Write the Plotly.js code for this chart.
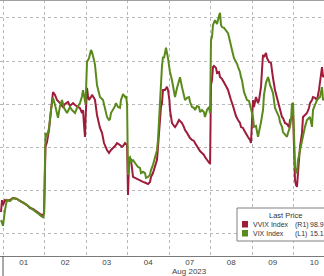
<!DOCTYPE html>
<html>
<head>
<meta charset="utf-8">
<script src="https://cdn.plot.ly/plotly-3.0.1.min.js"></script>
<style>html,body{margin:0;padding:0;background:#fff;overflow:hidden}#chart{width:324px;height:276px}</style>
</head>
<body>
<div id="chart"></div>
<script>
// Trading-session position (0 = open of Aug 01, each trading day = 1 unit)
const dayLabels = ['01', '02', '03', '04', '07', '08', '09', '10'];
const monthLabel = 'Aug 2023';

const vvixTime = [
  -0.048,-0.024,0,0.048,0.096,0.169,0.241,0.337,0.410,0.506,0.578,0.651,0.723,0.795,0.867,0.916,0.964,0.99,
  1.024,1.060,1.108,1.157,1.205,1.253,1.301,1.373,1.446,1.494,1.566,1.614,1.687,1.735,1.807,1.855,1.904,1.928,1.952,1.976,1.99,
  2.024,2.048,2.072,2.120,2.145,2.193,2.217,2.265,2.289,2.337,2.386,2.434,2.506,2.554,2.602,2.651,2.699,2.747,2.795,2.819,2.867,2.892,2.940,2.99,
  3.012,3.036,3.060,3.084,3.133,3.181,3.253,3.301,3.373,3.446,3.494,3.542,3.566,3.614,3.663,3.711,3.735,3.759,3.807,3.831,3.855,3.904,3.952,3.976,
  4.01,4.024,4.072,4.120,4.145,4.193,4.241,4.265,4.313,4.361,4.386,4.434,4.482,4.506,4.554,4.602,4.627,4.675,4.723,4.747,4.795,4.843,4.867,4.916,4.964,4.99,
  5.012,5.036,5.060,5.084,5.133,5.157,5.205,5.229,5.277,5.325,5.373,5.422,5.470,5.494,5.542,5.566,5.614,5.663,5.711,5.735,5.783,5.807,5.855,5.904,5.952,5.976,
  6.024,6.048,6.096,6.145,6.169,6.217,6.241,6.265,6.289,6.337,6.361,6.410,6.458,6.482,6.506,6.554,6.602,6.651,6.675,6.723,6.747,6.795,6.843,6.892,6.916,6.964,6.99,
  7.012,7.036,7.060,7.084,7.108,7.157,7.205,7.229,7.277,7.325,7.373,7.398,7.446,7.470,7.518,7.566,7.614,7.639,7.687,7.711,7.759
];
const vvixValue = [
  91.02,91.57,91.34,91.57,91.53,91.57,91.67,91.62,91.53,91.44,91.34,91.20,91.16,91.06,90.97,90.88,90.83,91.02,
  94.03,94.26,94.81,95.74,96.57,96.44,96.20,96.06,95.88,96.02,96.11,95.93,96.06,95.97,95.88,95.83,95.60,95.74,95.05,94.49,95.37,
  96.76,96.39,96.20,96.34,96.44,96.30,96.20,95.51,95.28,94.91,94.68,94.21,93.89,93.75,93.89,93.98,94.07,94.21,94.17,94.12,94.03,94.07,94.21,94.12,
  91.81,93.29,93.52,93.43,92.64,92.59,92.55,92.50,92.41,92.36,92.31,92.41,92.64,92.82,93.10,93.43,94.03,94.81,95.88,96.06,96.67,96.67,96.81,96.67,
  96.20,95.74,95.14,95.00,94.95,95.09,95.28,95.23,95.14,94.95,94.81,94.68,94.49,94.44,94.35,94.31,94.21,94.07,93.89,93.84,93.75,93.66,93.56,93.43,93.29,93.24,
  96.90,97.13,97.73,97.78,97.69,97.45,97.50,97.27,97.18,97.04,96.85,96.67,96.30,96.20,95.93,95.74,95.46,95.28,95.14,94.95,94.91,94.81,94.63,94.49,94.35,94.21,
  96.20,95.88,96.34,96.06,96.20,96.81,97.59,98.29,98.19,98.38,98.15,97.96,97.92,97.45,97.22,96.67,96.34,95.88,95.74,95.42,95.37,95.14,95.09,94.95,95.28,95.37,95.51,
  93.43,92.50,92.27,92.18,92.82,94.03,94.68,95.42,95.51,95.60,95.83,96.06,96.20,96.34,96.30,96.20,96.67,96.99,97.73,97.27,97.36
];

const vixTime = [
  -0.048,0,0.048,0.096,0.169,0.241,0.337,0.410,0.506,0.578,0.651,0.723,0.795,0.867,0.916,0.964,0.99,
  1.024,1.060,1.108,1.157,1.205,1.253,1.301,1.325,1.373,1.422,1.470,1.542,1.614,1.663,1.735,1.783,1.855,1.904,1.928,1.976,1.99,
  2.024,2.072,2.120,2.145,2.193,2.217,2.265,2.313,2.337,2.410,2.458,2.506,2.554,2.578,2.602,2.651,2.699,2.723,2.771,2.819,2.843,2.892,2.940,2.964,2.99,
  3.012,3.036,3.060,3.084,3.133,3.181,3.253,3.301,3.325,3.373,3.422,3.446,3.494,3.542,3.566,3.614,3.663,3.711,3.735,3.759,3.783,3.807,3.831,3.855,3.880,3.928,3.952,3.976,
  4.01,4.024,4.072,4.120,4.145,4.193,4.241,4.265,4.313,4.361,4.386,4.434,4.482,4.506,4.554,4.602,4.627,4.675,4.723,4.747,4.795,4.843,4.867,4.916,4.964,4.99,
  5.012,5.036,5.060,5.108,5.157,5.205,5.229,5.253,5.277,5.325,5.373,5.422,5.446,5.494,5.518,5.566,5.590,5.639,5.663,5.711,5.735,5.759,5.807,5.831,5.880,5.928,5.976,5.99,
  6.024,6.048,6.096,6.145,6.169,6.217,6.265,6.289,6.337,6.386,6.410,6.434,6.482,6.506,6.554,6.602,6.651,6.675,6.723,6.747,6.795,6.843,6.867,6.916,6.940,6.964,6.99,
  7.012,7.036,7.060,7.084,7.108,7.157,7.205,7.229,7.277,7.325,7.373,7.398,7.446,7.470,7.518,7.566,7.614,7.639,7.687,7.711,7.759
];
const vixValue = [
  12.32,12.19,12.56,12.79,12.76,12.83,12.81,12.76,12.72,12.67,12.63,12.58,12.53,12.46,12.42,12.39,12.46,
  14.34,14.25,14.45,14.87,15.15,14.99,14.78,14.69,14.96,15.10,14.92,14.80,14.94,14.87,14.80,14.92,15.03,15.19,15.33,15.10,15.01,
  15.98,16.07,16.26,16.21,16.03,15.91,15.45,15.22,15.17,15.10,14.92,14.71,14.64,14.66,14.80,14.87,14.96,15.03,14.94,14.92,15.10,15.24,15.17,15.19,15.01,
  13.37,13.76,13.78,13.67,13.71,13.64,13.55,13.53,13.41,13.44,13.41,13.30,13.32,13.37,13.48,13.60,13.78,13.94,14.18,14.64,15.10,15.63,15.89,16.10,16.07,16.31,16.21,16.07,
  15.84,15.75,15.56,15.33,15.17,15.38,15.56,15.63,15.40,15.22,15.10,15.15,15.17,15.06,14.94,14.92,14.87,14.96,14.94,14.82,14.87,14.82,14.71,14.87,14.94,14.80,
  16.49,16.56,16.84,16.95,16.86,17.05,17.12,16.84,16.79,16.77,16.72,16.65,16.56,16.31,16.26,16.07,16.03,15.94,15.87,15.75,15.63,15.56,15.29,15.22,15.10,15.08,14.92,14.87,
  14.71,14.48,14.50,14.25,14.34,14.59,14.87,15.22,15.50,15.63,15.56,15.45,15.33,15.26,14.92,14.82,14.71,14.59,14.48,14.36,14.29,14.25,14.34,14.48,14.64,15.01,15.03,
  13.94,13.55,13.44,13.41,13.71,13.94,14.18,14.34,14.48,14.64,14.69,14.71,14.48,14.87,14.99,15.10,15.15,15.17,15.40,15.10,15.15
];

const legendTitle = 'Last Price';
const legendNames = ['VVIX Index', 'VIX Index'];
const legendAxes = ['(R1)', '(L1)'];
const legendLast = ['98.9', '15.1'];

const RED = '#9e1c3a';
const GREEN = '#5b8a1c';
const GRID = '#b8b8b8';
const FONT = 'Liberation Sans, Arial, sans-serif';

const xRange = [-0.0723, 7.735];
const boundaries = dayLabels.map((_, i) => i).concat([dayLabels.length]);
const centers = dayLabels.map((_, i) => i + 0.5);

const traces = [
  {x: vvixTime, y: vvixValue, xaxis: 'x', yaxis: 'y', mode: 'lines', name: 'VVIX Index',
   line: {color: RED, width: 2}, showlegend: false, hoverinfo: 'skip'},
  {x: vixTime, y: vixValue, xaxis: 'x2', yaxis: 'y2', mode: 'lines', name: 'VIX Index',
   line: {color: GREEN, width: 2}, showlegend: false, hoverinfo: 'skip'}
];

function px2paperX(p) { return p / 324; }
function px2paperY(p) { return (256 - p) / 256; }

const shapes = [
  // top frame
  {type: 'line', xref: 'paper', yref: 'paper', x0: 0, x1: 1, y0: 1, y1: 1, line: {color: '#a0a0a0', width: 2}},
  // month separator below axis
  {type: 'line', xref: 'x', yref: 'paper', x0: 0, x1: 0, y0: 0, y1: -0.085, line: {color: '#555', width: 1}},
  // legend box
  {type: 'rect', xref: 'paper', yref: 'paper', x0: px2paperX(237), x1: 1.1, y0: px2paperY(241), y1: px2paperY(208),
   line: {color: '#808080', width: 1}, fillcolor: '#ffffff', layer: 'above'},
  {type: 'rect', xref: 'paper', yref: 'paper', x0: px2paperX(242), x1: px2paperX(248), y0: px2paperY(227.5), y1: px2paperY(221),
   line: {width: 0}, fillcolor: RED, layer: 'above'},
  {type: 'rect', xref: 'paper', yref: 'paper', x0: px2paperX(242), x1: px2paperX(248), y0: px2paperY(236.5), y1: px2paperY(230),
   line: {width: 0}, fillcolor: GREEN, layer: 'above'}
];

const lf = {family: FONT, size: 7, color: '#333'};
const annotations = [
  {xref: 'x', yref: 'paper', x: centers[4], y: px2paperY(271), text: monthLabel, showarrow: false,
   font: {family: FONT, size: 8, color: '#444'}, xanchor: 'center', yanchor: 'middle'},
  {xref: 'paper', yref: 'paper', x: px2paperX(285.5), y: px2paperY(215), text: legendTitle, showarrow: false,
   font: {family: FONT, size: 7.5, color: '#333'}, xanchor: 'center', yanchor: 'middle'}
];
[0, 1].forEach(i => {
  const yy = px2paperY(i === 0 ? 224.5 : 233.5);
  annotations.push({xref: 'paper', yref: 'paper', x: px2paperX(250.5), y: yy, text: legendNames[i], showarrow: false, font: lf, xanchor: 'left', yanchor: 'middle'});
  annotations.push({xref: 'paper', yref: 'paper', x: px2paperX(292.5), y: yy, text: legendAxes[i], showarrow: false, font: lf, xanchor: 'left', yanchor: 'middle'});
  annotations.push({xref: 'paper', yref: 'paper', x: px2paperX(308), y: yy, text: legendLast[i], showarrow: false, font: lf, xanchor: 'left', yanchor: 'middle'});
});

const layout = {
  width: 324, height: 276,
  margin: {l: 0, r: 0, t: 0, b: 20, pad: 0},
  paper_bgcolor: '#ffffff', plot_bgcolor: '#ffffff',
  showlegend: false,
  xaxis: {range: xRange, tickvals: boundaries, showticklabels: false, ticks: '',
          showgrid: true, gridcolor: GRID, griddash: 'dot', gridwidth: 1, zeroline: false,
          showline: true, linecolor: '#7a7a7a', linewidth: 1, fixedrange: true},
  xaxis2: {range: xRange, overlaying: 'x', anchor: 'y', side: 'bottom', tickvals: centers, ticktext: dayLabels,
           showgrid: false, zeroline: false, ticks: '', showline: false,
           tickfont: {family: FONT, size: 8, color: '#444'}, fixedrange: true},
  yaxis: {range: [88.981, 100.833], tickvals: [90, 92, 94, 96, 98, 100], showticklabels: false, ticks: '',
          showgrid: true, gridcolor: GRID, griddash: 'dot', gridwidth: 1, zeroline: false, showline: false, fixedrange: true},
  yaxis2: {range: [11.4907, 17.4167], overlaying: 'y', anchor: 'x', side: 'left', showticklabels: false, ticks: '',
           showgrid: false, zeroline: false, showline: false, fixedrange: true},
  shapes: shapes,
  annotations: annotations
};

Plotly.newPlot('chart', traces, layout, {staticPlot: true, displayModeBar: false});
</script>
</body>
</html>
